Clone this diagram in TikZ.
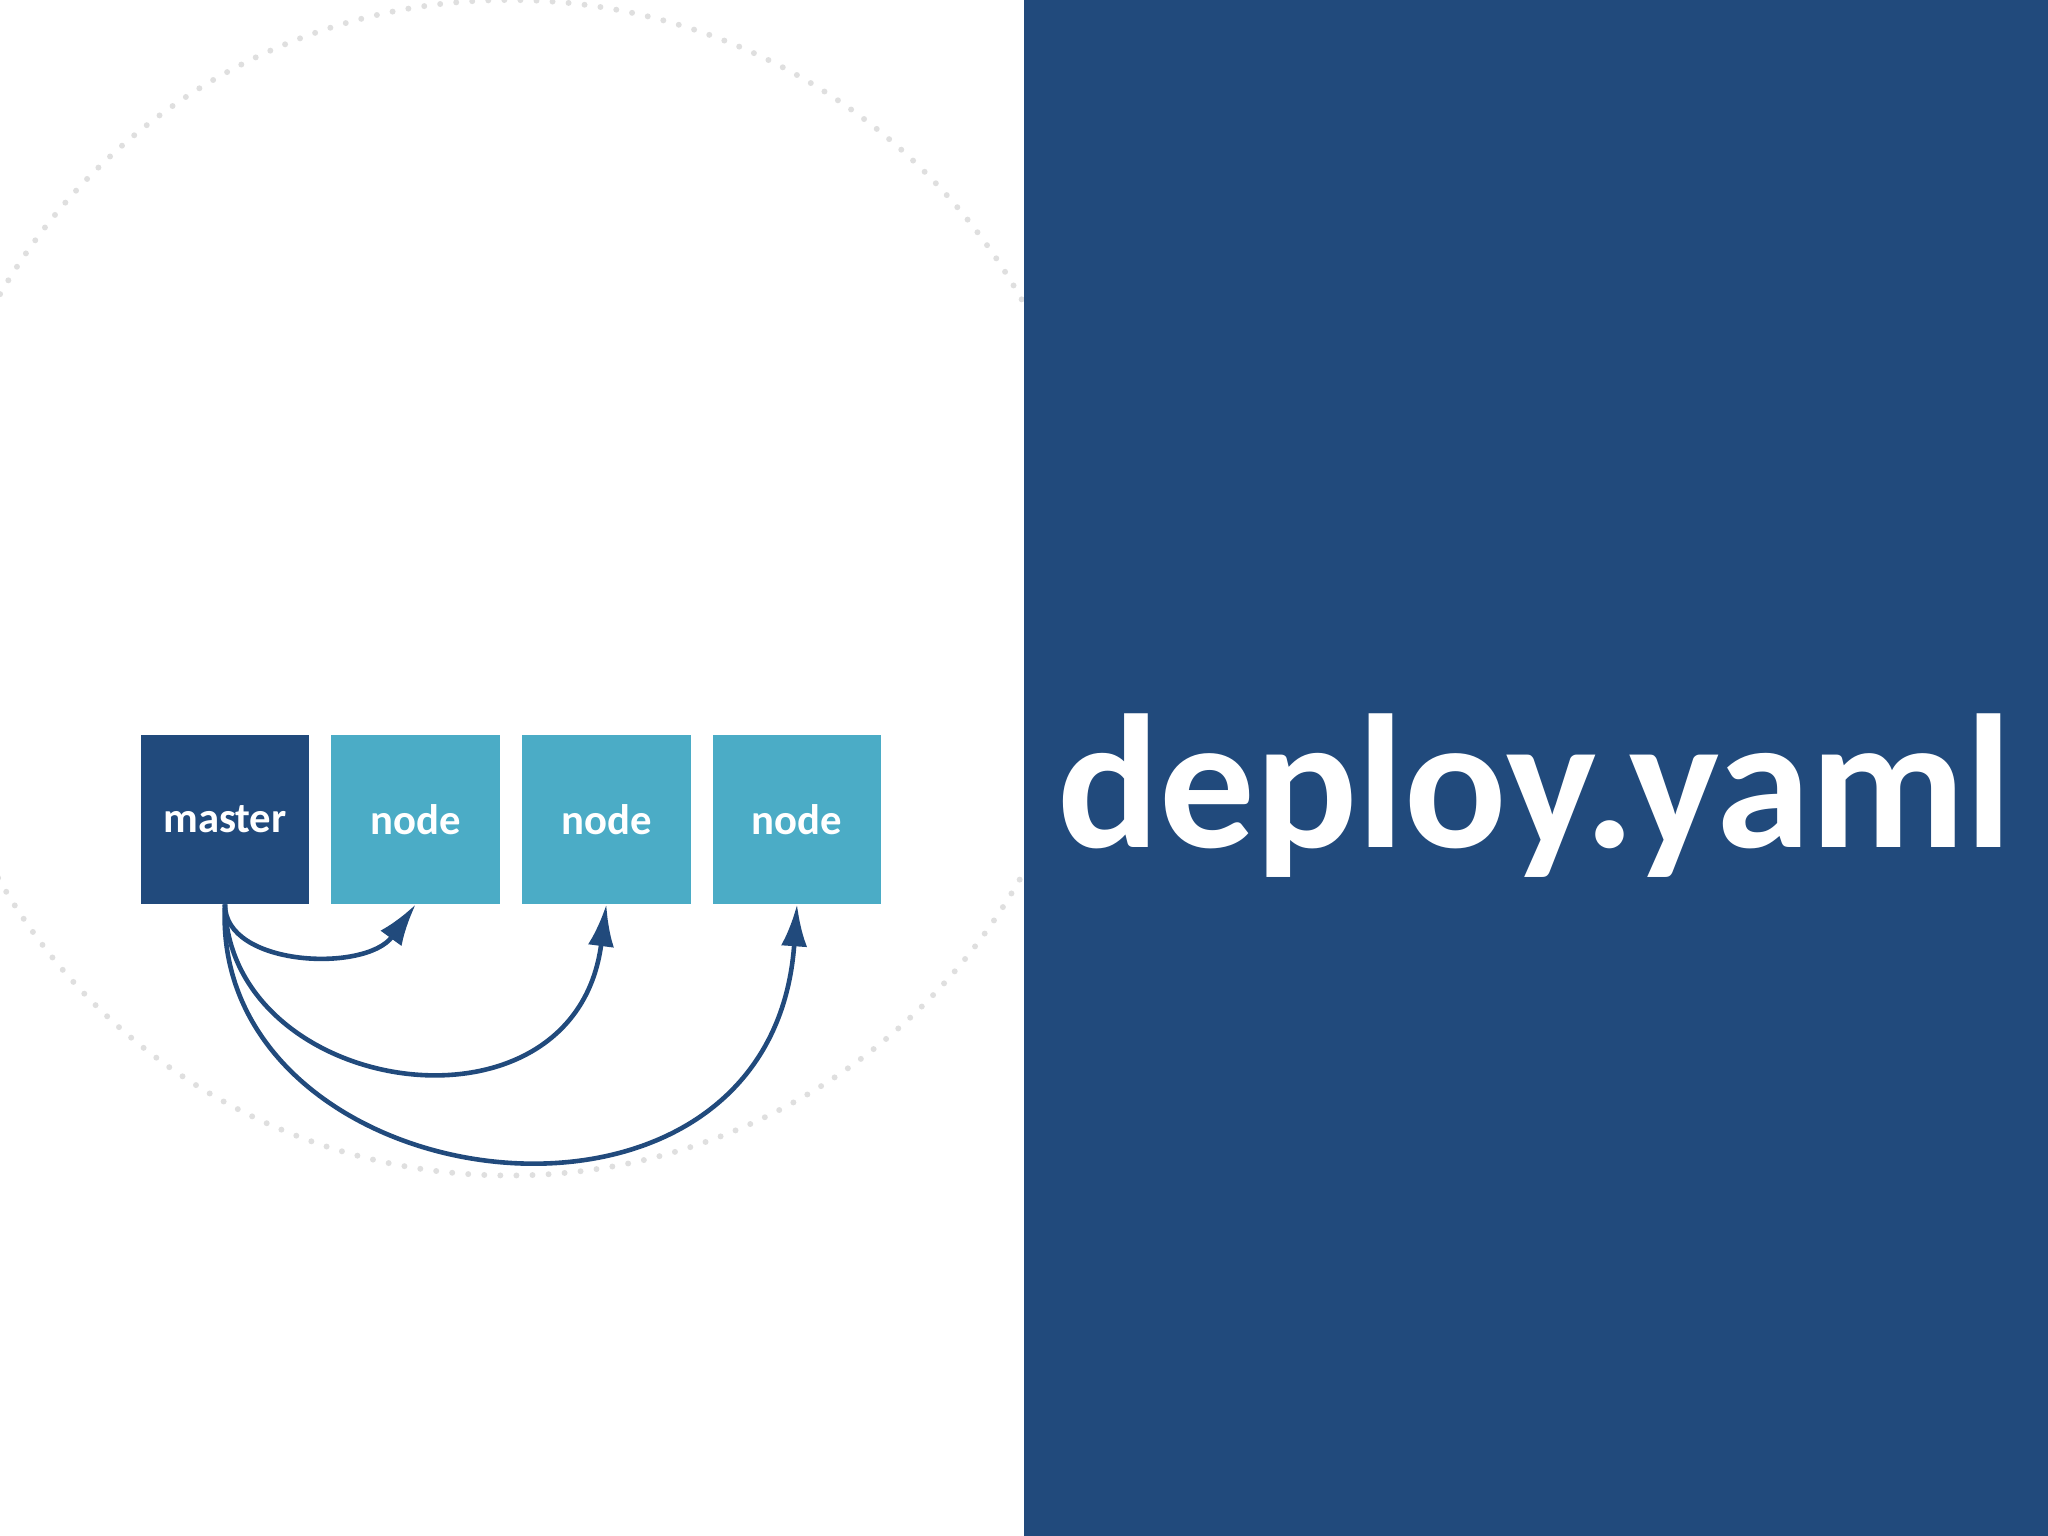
\documentclass[tikz,border=0pt]{standalone}
\usepackage{fontspec}
\setmainfont{Carlito}
\usetikzlibrary{arrows.meta}
\definecolor{dblue}{HTML}{214A7C}
\definecolor{lblue}{HTML}{4BACC6}
\begin{document}
\begin{tikzpicture}[x=0.01cm,y=-0.01cm,
  box/.style={minimum width=1.29cm,minimum height=1.29cm,inner sep=0,anchor=north west,text=white,font=\bfseries\fontsize{9.3}{11}\selectfont},
  arr/.style={draw=dblue,line width=1pt,-{Latex[length=3.2mm,width=2mm]}}]
\useasboundingbox (0,0) rectangle (1568,1176);
\begin{scope}
\clip (0,0) rectangle (784,1176);
\draw[gray!25,line width=1.3pt,dash pattern=on 0pt off 3.5pt,line cap=round] (390,450) circle (450);
\end{scope}
\fill[dblue] (784,0) rectangle (1568,1176);
\node[font=\bfseries\fontsize{41.5}{44}\selectfont,text=white] (t) at (1175,609) {deploy.yaml};
\node[box,fill=dblue] (m) at (107,562) {master};
\node[box,fill=lblue] (n1) at (253,562) {node};
\node[box,fill=lblue] (n2) at (399,562) {node};
\node[box,fill=lblue] (n3) at (545,562) {node};
\draw[arr] (m.south) .. controls (172,740) and (280,745) .. (n1.south);
\draw[arr] (m.south) .. controls (175,840) and (440,880) .. (n2.south);
\draw[arr] (m.south) .. controls (160,920) and (590,980) .. (n3.south);
\end{tikzpicture}
\end{document}
